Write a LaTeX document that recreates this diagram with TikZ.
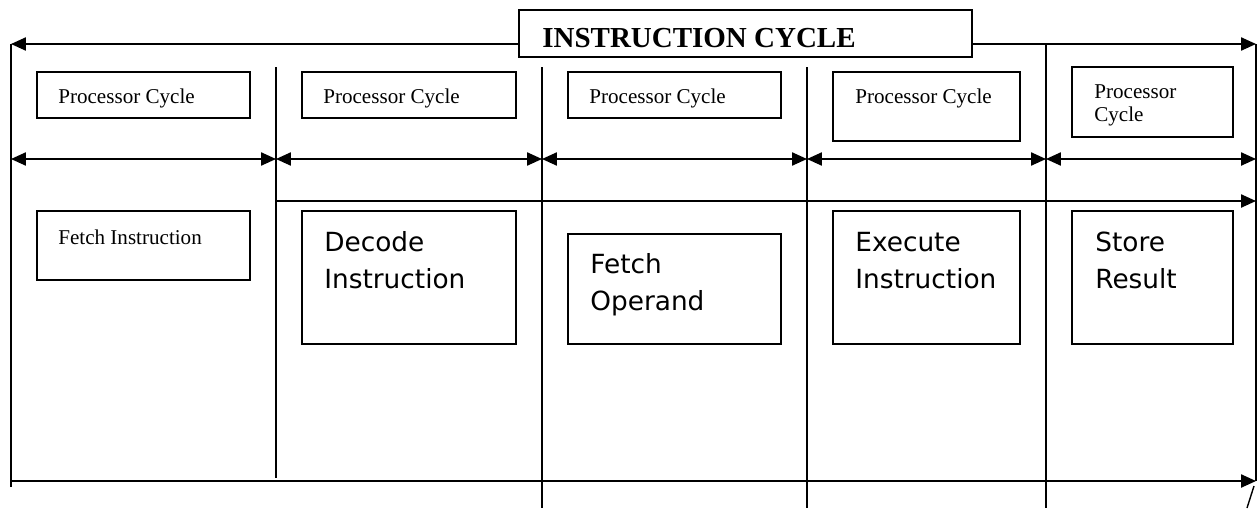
\documentclass[tikz,border=0pt]{standalone}
\usepackage{fontspec}
\setmainfont{Liberation Serif}
\newfontfamily\handfont{DejaVu Sans}
\usetikzlibrary{arrows.meta}
\tikzset{
  rule/.style={line width=0.8pt},
  boxline/.style={line width=0.9pt},
  span/.style={line width=0.9pt, {Triangle[length=8.5pt,width=7.5pt]}-{Triangle[length=8.5pt,width=7.5pt]}},
  toright/.style={line width=0.9pt, -{Triangle[length=8.5pt,width=7.5pt]}},
  toleft/.style={line width=0.9pt, -{Triangle[length=8.5pt,width=7.5pt]}},
  cyctext/.style={font=\fontsize{12}{13}\selectfont, anchor=base west, inner sep=0pt, align=left},
  stagetext/.style={font=\handfont\fontsize{15}{21}\selectfont, anchor=base west, inner sep=0pt, align=left}
}

\begin{document}
\begin{tikzpicture}[x=0.02cm, y=-0.02cm]
  \useasboundingbox (0,0) rectangle (1259,508);

  % Outer frame
  \coordinate (topL) at (11,44);
  \coordinate (topR) at (1256,44);
  \coordinate (botL) at (11,481);
  \coordinate (botR) at (1256,481);
  \draw[rule] (11,487) -- (topL);
  \draw[rule] (topR) -- (botR);

  % Instruction cycle title
  \draw[boxline] (519,10) rectangle (972,57);
  \node[font=\bfseries\fontsize{16.5}{18}\selectfont, anchor=base west, inner sep=0pt] (title) at (542,47) {INSTRUCTION CYCLE};
  \coordinate (tboxL) at (519,44);
  \coordinate (tboxR) at (972,44);
  \draw[toleft] (tboxL) -- (topL);
  \draw[toright] (tboxR) -- (topR);

  % Dividers between processor cycles
  \coordinate (d1t) at (276,67);  \coordinate (d1b) at (276,478);
  \coordinate (d2t) at (542,67);  \coordinate (d2b) at (542,508);
  \coordinate (d3t) at (807,67);  \coordinate (d3b) at (807,508);
  \coordinate (d4t) at (1046,44); \coordinate (d4b) at (1046,508);
  \draw[rule] (d1t) -- (d1b);
  \draw[rule] (d2t) -- (d2b);
  \draw[rule] (d3t) -- (d3b);
  \draw[rule] (d4t) -- (d4b);

  % Processor cycle boxes
  \draw[boxline] (37,72) rectangle (250,118);
  \node[cyctext] (pc1) at (58,103) {Processor Cycle};
  \draw[boxline] (302,72) rectangle (516,118);
  \node[cyctext] (pc2) at (323,103) {Processor Cycle};
  \draw[boxline] (568,72) rectangle (781,118);
  \node[cyctext] (pc3) at (589,103) {Processor Cycle};
  \draw[boxline] (833,72) rectangle (1020,141);
  \node[cyctext] (pc4) at (855,103) {Processor Cycle};
  \draw[boxline] (1072,67) rectangle (1233,137);
  \node[cyctext] (pc5) at (1094,121) {Processor\\Cycle};

  % Cycle spans
  \coordinate (s0) at (11,159);
  \coordinate (s1) at (276,159);
  \coordinate (s2) at (542,159);
  \coordinate (s3) at (807,159);
  \coordinate (s4) at (1046,159);
  \coordinate (s5) at (1256,159);
  \draw[span] (s0) -- (s1);
  \draw[span] (s1) -- (s2);
  \draw[span] (s2) -- (s3);
  \draw[span] (s3) -- (s4);
  \draw[span] (s4) -- (s5);

  % Second arrow
  \coordinate (m0) at (276,201);
  \coordinate (m1) at (1256,201);
  \draw[toright] (m0) -- (m1);

  % Stage boxes
  \draw[boxline] (37,211) rectangle (250,280);
  \node[cyctext] (fetch) at (58,244) {Fetch Instruction};
  \draw[boxline] (302,211) rectangle (516,344);
  \node[stagetext] (decode) at (324,288) {Decode\\Instruction};
  \draw[boxline] (568,234) rectangle (781,344);
  \node[stagetext] (operand) at (590,310) {Fetch\\Operand};
  \draw[boxline] (833,211) rectangle (1020,344);
  \node[stagetext] (execute) at (855,288) {Execute\\Instruction};
  \draw[boxline] (1072,211) rectangle (1233,344);
  \node[stagetext] (store) at (1095,288) {Store\\Result};

  % Bottom arrow
  \draw[toright] (botL) -- (botR);
  \coordinate (tick) at (1247,508);
  \draw[rule] (tick) -- (1254,486);
\end{tikzpicture}
\end{document}
